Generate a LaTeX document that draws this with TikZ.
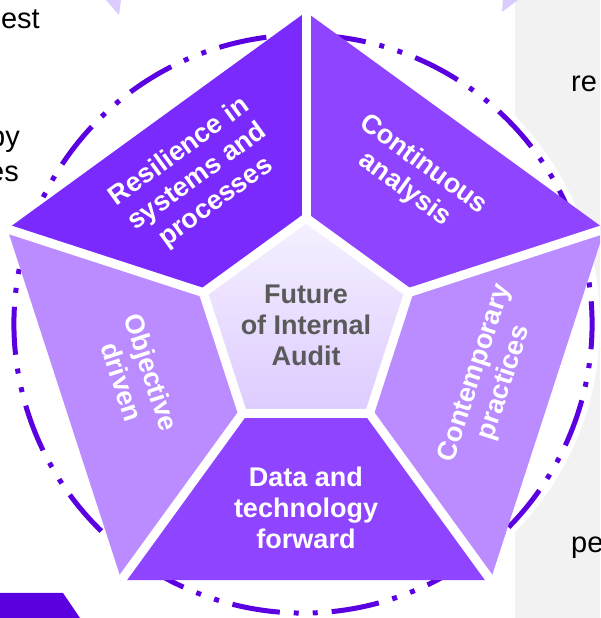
\documentclass[tikz,border=0pt]{standalone}
\usepackage{fontspec}
\setmainfont{Liberation Sans}
\usetikzlibrary{calc}
\definecolor{dkv}{HTML}{5B00E0}
\definecolor{segA}{HTML}{7A2AFC}
\definecolor{segB}{HTML}{8F44FF}
\definecolor{segL}{HTML}{BB8CFF}
\definecolor{graybg}{HTML}{F2F2F2}
\definecolor{lav}{HTML}{DCCBFF}
\definecolor{midgray}{HTML}{5A5A5A}
\definecolor{inTop}{HTML}{F6F1FF}
\definecolor{inMid}{HTML}{E3D5FF}
\definecolor{inBot}{HTML}{DDCBFF}
\tikzset{
  ring/.style={draw=dkv, line width=5pt, dash pattern=on 48pt off 14pt on 5pt off 14pt on 5pt off 14pt},
  gapline/.style={draw=white, line width=9pt},
  seglabel/.style={text=white, align=center, font=\fontsize{27}{31}\selectfont\bfseries, inner sep=0pt},
  centerlabel/.style={text=midgray, align=center, font=\fontsize{27}{31}\selectfont\bfseries, inner sep=0pt},
  sidetext/.style={text=black, font=\fontsize{29}{35}\selectfont, inner sep=0pt}
}
\begin{document}
\begin{tikzpicture}[x=1pt,y=1pt]
\useasboundingbox (0,0) rectangle (600,618);
\clip (0,0) rectangle (600,618);
\fill[white] (0,0) rectangle (600,618);
\fill[graybg] (515,0) rectangle (600,618);
\coordinate (D) at (303,294);
\coordinate (C) at (306,292);
\fill[white] (D) circle (297);
% side texts
\node[sidetext, anchor=base east] (s1) at (40,589) {est};
\node[sidetext, anchor=base east] (s2) at (20,471) {by};
\node[sidetext, anchor=base east] (s3) at (19,436) {es};
\node[sidetext, anchor=base west] (s4) at (571,526) {re};
\node[sidetext, anchor=base west] (s5) at (571,65) {pe};
% dashed ring
\draw[ring] ($(D)+(18:289)$) arc[start angle=18, end angle=378, radius=289];
% vertices
\foreach \k in {0,...,4}{
  \coordinate (O\k) at ($(C)+({90+72*\k}:314)$);
  \coordinate (I\k) at ($(C)+({90+72*\k}:104)$);
  \coordinate (P\k) at ($(C)+({90+72*\k}:108)$);
}
% segments
\fill[segA] (O0) -- (O1) -- (I1) -- (I0) -- cycle;
\fill[segL] (O1) -- (O2) -- (I2) -- (I1) -- cycle;
\fill[segB] (O2) -- (O3) -- (I3) -- (I2) -- cycle;
\fill[segL] (O3) -- (O4) -- (I4) -- (I3) -- cycle;
\fill[segB] (O4) -- (O0) -- (I0) -- (I4) -- cycle;
\foreach \k in {0,...,4}{
  \draw[gapline] (I\k) -- (O\k);
}
% inner pentagon
\shade[top color=inTop, middle color=inMid, bottom color=inBot] (P0) -- (P1) -- (P2) -- (P3) -- (P4) -- cycle;
\draw[white, line width=9pt, line join=miter] (P0) -- (P1) -- (P2) -- (P3) -- (P4) -- cycle;
% labels
\node[centerlabel] (cen) at ($(C)+(0,1)$) {Future\\of Internal\\Audit};
\node[seglabel, rotate=36] (lA) at ($(C)+(126:184)$) {Resilience in\\systems and\\processes};
\node[seglabel, rotate=-36] (lB) at ($(C)+(54:184)$) {Continuous\\analysis};
\node[seglabel, rotate=72] (lC) at (490,240) {Contemporary\\practices};
\node[seglabel] (lD) at ($(C)+(270:182)$) {Data and\\technology\\forward};
\node[seglabel, rotate=-72] (lE) at (137,241) {Objective\\driven};
% clipped outside shapes
\fill[lav] (106,618) -- (121,618) -- (119,603) -- cycle;
\fill[lav] (503,618) -- (518,618) -- (502,606) -- cycle;
\fill[dkv] (0,0) -- (80,0) -- (63,25) -- (0,25) -- cycle;
\end{tikzpicture}
\end{document}
